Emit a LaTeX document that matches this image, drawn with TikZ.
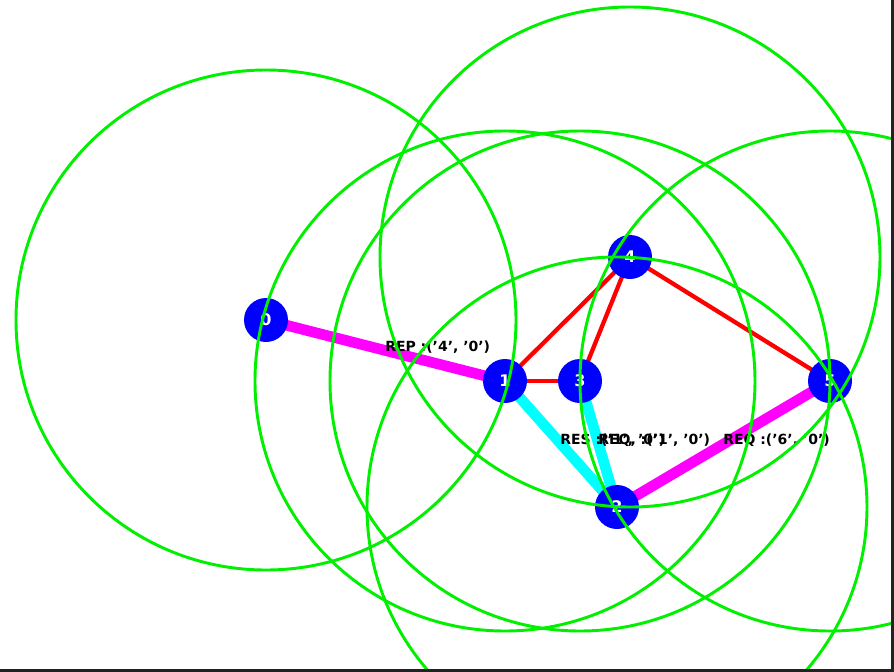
\documentclass[tikz,border=0pt]{standalone}
\usepackage{fontspec}
\setmainfont{DejaVu Sans}
\begin{document}
\begin{tikzpicture}[x=0.75pt,y=-0.75pt,
  vert/.style={circle,fill={rgb,255:red,0;green,0;blue,255},minimum size=33pt,inner sep=0pt,text=white,font=\bfseries\fontsize{12}{12}\selectfont},
  redge/.style={draw={rgb,255:red,255;green,0;blue,0},line width=3.2pt},
  medge/.style={draw={rgb,255:red,255;green,0;blue,255},line width=8pt},
  cedge/.style={draw={rgb,255:red,0;green,255;blue,255},line width=8pt},
  elab/.style={anchor=west,inner sep=0pt,font=\bfseries\fontsize{10.5}{10.5}\selectfont,text=black},
  rangecirc/.style={draw={rgb,255:red,0;green,240;blue,0},line width=2.2pt}]
\useasboundingbox (0,0) rectangle (894,672);
\fill[white] (0,0) rectangle (894,672);
\begin{scope}
\clip (0,0) rectangle (891,669);
\coordinate (p0) at (266,320);
\coordinate (p1) at (505,381);
\coordinate (p3) at (580,381);
\coordinate (p4) at (630,257);
\coordinate (p5) at (830,381);
\coordinate (p2) at (617,507);
% edges
\draw[medge] (p0) -- (p1);
\draw[cedge] (p1) -- (p2);
\draw[cedge] (p3) -- (p2);
\draw[medge] (p2) -- (p5);
\draw[redge] (p1) -- (p3);
\draw[redge] (p3) -- (p4);
\draw[redge] (p1) -- (p4);
\draw[redge] (p4) -- (p5);
% nodes
\node[vert] (n0) at (p0) {0};
\node[vert] (n1) at (p1) {1};
\node[vert] (n3) at (p3) {3};
\node[vert] (n4) at (p4) {4};
\node[vert] (n5) at (p5) {5};
\node[vert] (n2) at (p2) {2};
% labels
\node[elab] (l01) at (385,347) {REP :('4', '0')};
\node[elab] (l12) at (560,440) {RES :('1', '0')};
\node[elab] (l32) at (598,440) {REQ, :('1', '0')};
\node[elab] (l25) at (723,440) {REQ :('6', '0')};
% ranges
\foreach \n in {n0,n1,n3,n4,n5,n2} \draw[rangecirc] (\n.center) circle[radius=250];
\end{scope}
\draw[draw={rgb,255:red,34;green,34;blue,34},line width=2.5pt] (892.5,0) -- (892.5,670.5) -- (0,670.5);
\end{tikzpicture}
\end{document}
